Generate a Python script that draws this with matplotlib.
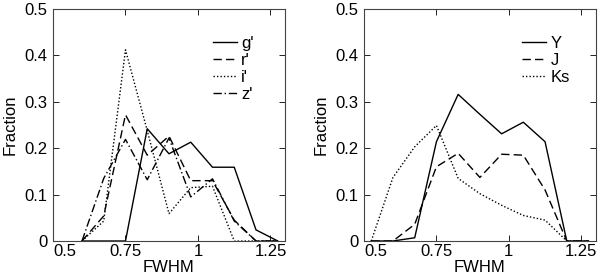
import numpy as np
import matplotlib
matplotlib.use('Agg')
import matplotlib.pyplot as plt

plt.rcParams['font.family'] = ['Liberation Sans', 'DejaVu Sans']
plt.rcParams['font.size'] = 12

# optical bands
fwhm_opt = [0.6, 0.675, 0.75, 0.825, 0.9, 0.975, 1.05, 1.125, 1.2, 1.275]
g_frac = [0.0, 0.0, 0.0, 0.242, 0.188, 0.213, 0.159, 0.159, 0.024, 0.0]
r_frac = [0.0, 0.054, 0.272, 0.185, 0.226, 0.130, 0.130, 0.045, 0.0, 0.0]
i_frac = [0.0, 0.043, 0.412, 0.238, 0.059, 0.115, 0.118, 0.0, 0.0, 0.0]
z_frac = [0.0, 0.135, 0.219, 0.132, 0.222, 0.095, 0.134, 0.043, 0.0, 0.0]

# near-infrared bands
fwhm_nir = [0.525, 0.6, 0.675, 0.75, 0.825, 0.9, 0.975, 1.05, 1.125, 1.2, 1.275]
y_frac = [0.0, 0.0, 0.007, 0.214, 0.316, 0.273, 0.231, 0.256, 0.214, 0.0, 0.0]
j_frac = [0.0, 0.0, 0.036, 0.160, 0.189, 0.137, 0.187, 0.185, 0.110, 0.0, 0.0]
ks_frac = [0.0, 0.137, 0.203, 0.249, 0.135, 0.102, 0.077, 0.055, 0.045, 0.0, 0.0]

xticks = [0.5, 0.75, 1, 1.25]
xtick_labels = ['0.5', '0.75', '1', '1.25']
yticks = [0, 0.1, 0.2, 0.3, 0.4, 0.5]
ytick_labels = ['0', '0.1', '0.2', '0.3', '0.4', '0.5']

fig = plt.figure(figsize=(6, 2.76), dpi=100)
ax1 = fig.add_axes([0.0883, 0.1268, 0.3867, 0.8406])
ax2 = fig.add_axes([0.6067, 0.1268, 0.3862, 0.8406])

lw = 1.0
ax1.plot(fwhm_opt, g_frac, 'k-', lw=lw, label="g'")
ax1.plot(fwhm_opt, r_frac, 'k', ls=(0, (6, 3)), lw=lw, label="r'")
ax1.plot(fwhm_opt, i_frac, 'k', ls=(0, (1, 1.5)), lw=lw, label="i'")
ax1.plot(fwhm_opt, z_frac, 'k', ls=(0, (6, 2, 1, 2)), lw=lw, label="z'")

ax2.plot(fwhm_nir, y_frac, 'k-', lw=lw, label='Y')
ax2.plot(fwhm_nir, j_frac, 'k', ls=(0, (6, 3)), lw=lw, label='J')
ax2.plot(fwhm_nir, ks_frac, 'k', ls=(0, (1, 1.5)), lw=lw, label='Ks')

for ax, lx in ((ax1, 0.688), (ax2, 0.682)):
    ax.set_xlim(0.5, 1.3)
    ax.set_ylim(0, 0.5)
    ax.set_xticks(xticks)
    ax.set_xticklabels(xtick_labels)
    ax.get_xticklabels()[0].set_horizontalalignment('left')
    ax.set_yticks(yticks)
    ax.set_yticklabels(ytick_labels)
    ax.tick_params(direction='in', length=4, width=0.6, top=True, right=True, pad=2)
    ax.tick_params(axis='y', pad=4)
    for s in ax.spines.values():
        s.set_linewidth(0.8)
        s.set_color('#444444')
    ax.set_xlabel('FWHM', labelpad=1)
    ax.set_ylabel('Fraction', labelpad=5)
    ax.legend(loc='upper left', bbox_to_anchor=(lx, 0.885), frameon=False,
              handlelength=1.45, handletextpad=0.25, labelspacing=0.12,
              borderpad=0, borderaxespad=0)

plt.savefig('out.png', dpi=100)
